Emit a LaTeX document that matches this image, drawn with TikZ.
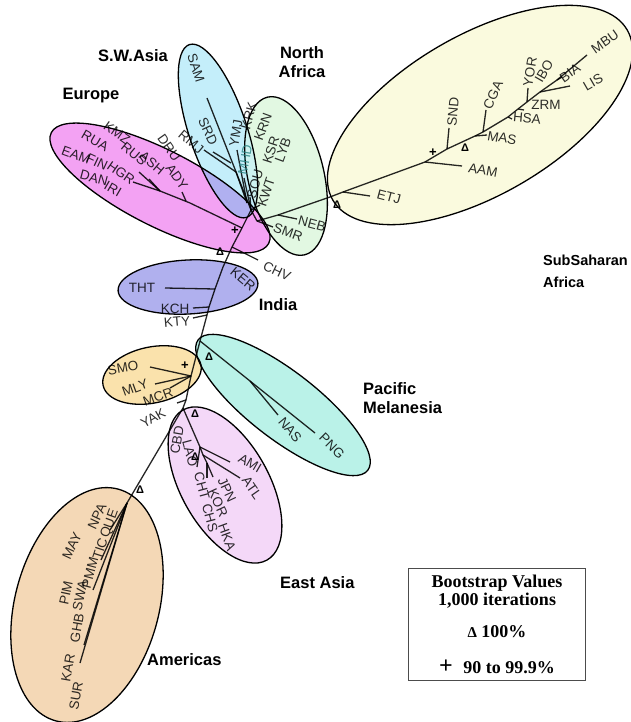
\documentclass[tikz,border=0pt]{standalone}
\usepackage{fontspec}
\setmainfont{Liberation Sans}
\newfontfamily\legfont{Liberation Serif}
\definecolor{cNA}{RGB}{226,248,226}
\definecolor{cSS}{RGB}{250,250,222}
\definecolor{cEU}{RGB}{243,162,243}
\definecolor{cSW}{RGB}{196,238,250}
\definecolor{cEUSW}{RGB}{176,176,240}
\definecolor{cNASW}{RGB}{205,242,240}
\definecolor{cIN}{RGB}{176,176,238}
\definecolor{cSM}{RGB}{250,226,172}
\definecolor{cPA}{RGB}{186,242,232}
\definecolor{cEA}{RGB}{244,216,248}
\definecolor{cAM}{RGB}{244,216,182}
\definecolor{cMHD}{RGB}{40,130,130}
\begin{document}
\begin{tikzpicture}[x=1pt,y=-1pt,
  lab/.style={font=\fontsize{13.5}{14}\selectfont,inner sep=0pt,text opacity=0.82},
  grp/.style={font=\bfseries\fontsize{16.5}{19}\selectfont,inner sep=0pt,align=left},
  branch/.style={line width=1.3pt,draw opacity=0.85,line join=round},
  rim/.style={line width=1.3pt},
  dm/.style={font=\bfseries\fontsize{11}{11}\selectfont,inner sep=0pt},
  pm/.style={font=\bfseries\fontsize{13}{13}\selectfont,inner sep=0pt},
  leg/.style={font=\legfont\bfseries\fontsize{18}{20}\selectfont,inner sep=0pt},
  rNA/.style={rotate around={-76.8:(286,176)}},
  rSS/.style={rotate around={30:(480,115)}},
  rEU/.style={rotate around={-27:(160,188)}},
  rSW/.style={rotate around={-71.7:(218,131)}},
  rIN/.style={rotate around={3:(188,287)}},
  rSM/.style={rotate around={12:(152,375)}},
  rPA/.style={rotate around={-37.6:(283,405)}},
  rEA/.style={rotate around={-60.8:(225,485)}},
  rAM/.style={rotate around={75:(87,605)}}
]
\useasboundingbox (0,0) rectangle (631,722);
\fill[white] (0,0) rectangle (631,722);

% ---- ellipse fills
\fill[cNA,rNA] (286,176) ellipse [x radius=81pt,y radius=38pt];
\fill[cSS,rSS] (480,115) ellipse [x radius=170pt,y radius=80pt];
\fill[cEU,rEU] (160,188) ellipse [x radius=122pt,y radius=38pt];
\fill[cSW,rSW] (218,131) ellipse [x radius=91pt,y radius=29pt];
\begin{scope}
  \clip[rNA] (286,176) ellipse [x radius=81pt,y radius=38pt];
  \fill[cNASW,rSW] (218,131) ellipse [x radius=91pt,y radius=29pt];
\end{scope}
\begin{scope}
  \clip[rEU] (160,188) ellipse [x radius=122pt,y radius=38pt];
  \fill[cEUSW,rSW] (218,131) ellipse [x radius=91pt,y radius=29pt];
\end{scope}
\fill[cIN,rIN] (188,287) ellipse [x radius=70pt,y radius=27pt];
\fill[cSM,rSM] (152,375) ellipse [x radius=50pt,y radius=28pt];
\fill[cPA,rPA] (283,405) ellipse [x radius=107pt,y radius=34pt];
\fill[cEA,rEA] (225,485) ellipse [x radius=86pt,y radius=44pt];
\fill[cAM,rAM] (87,605) ellipse [x radius=120pt,y radius=72pt];

% ---- ellipse outlines
\draw[rim,rNA] (286,176) ellipse [x radius=81pt,y radius=38pt];
\draw[rim,rSS] (480,115) ellipse [x radius=170pt,y radius=80pt];
\draw[rim,rEU] (160,188) ellipse [x radius=122pt,y radius=38pt];
\draw[rim,rSW] (218,131) ellipse [x radius=91pt,y radius=29pt];
\draw[rim,rIN] (188,287) ellipse [x radius=70pt,y radius=27pt];
\draw[rim,rSM] (152,375) ellipse [x radius=50pt,y radius=28pt];
\draw[rim,rPA] (283,405) ellipse [x radius=107pt,y radius=34pt];
\draw[rim,rEA] (225,485) ellipse [x radius=86pt,y radius=44pt];
\draw[rim,rAM] (87,605) ellipse [x radius=120pt,y radius=72pt];

% ---- tree coordinates
\coordinate (C0) at (251,210);
\coordinate (naJ) at (257,221);
\coordinate (nebJ) at (278,215);
\coordinate (sB) at (330,197);
\coordinate (etjJ) at (343,192);
\coordinate (aamJ) at (425,162);
\coordinate (sndJ) at (447,149);
\coordinate (masJ) at (475,136);
\coordinate (cgaJ) at (483,132);
\coordinate (hsaJ) at (508,117);
\coordinate (zrmJ) at (518,109);
\coordinate (yorJ) at (527,102);
\coordinate (lisJ) at (540,92);
\coordinate (biaJ) at (557,80);
\coordinate (mbuE) at (587,55);
\coordinate (eJ) at (242,228);
\coordinate (chvJ) at (232,247);
\coordinate (kerP) at (223,267);
\coordinate (thtJ) at (215,289);
\coordinate (kchJ) at (209,307);
\coordinate (ktyJ) at (207,315);
\coordinate (pacJ) at (200,341);
\coordinate (smoJ) at (191,376);
\coordinate (yakJ) at (186,400);
\coordinate (eaJ) at (183,408);
\coordinate (amJ) at (127,503);
\coordinate (ea1) at (200,447);
\coordinate (ea2) at (203,455);
\coordinate (ea3) at (207,463);
\coordinate (nasJ) at (250,381);
\coordinate (euM) at (190,203);
\coordinate (euF) at (160,191);

% ---- branches
\draw[branch] (C0) -- (naJ) -- (nebJ) -- (sB) -- (etjJ) -- (aamJ) -- (sndJ) -- (masJ) -- (cgaJ) -- (hsaJ) -- (zrmJ) -- (yorJ) -- (lisJ) -- (biaJ) -- (mbuE);
\draw[branch] (etjJ) -- (370,196);
\draw[branch] (aamJ) -- (462,166);
\draw[branch] (sndJ) -- (449,128);
\draw[branch] (masJ) -- (487,135);
\draw[branch] (cgaJ) -- (486,110);
\draw[branch] (hsaJ) -- (512,119);
\draw[branch] (zrmJ) -- (524,110);
\draw[branch] (yorJ) -- (528,88);
\draw[branch] (lisJ) -- (570,86);
\draw[branch] (biaJ) -- (562,77);
\draw[branch] (nebJ) -- (297,219);
\draw[branch] (naJ) -- (273,227);
% trunk
\draw[branch] (C0) -- (eJ) -- (chvJ) -- (kerP) -- (thtJ) -- (kchJ) -- (ktyJ) -- (pacJ) -- (smoJ) -- (yakJ) -- (eaJ) -- (amJ);
\draw[branch] (chvJ) -- (258,260);
\draw[branch] (thtJ) -- (165,288);
\draw[branch] (kchJ) -- (193,308);
\draw[branch] (ktyJ) -- (193,318);
% Europe
\draw[branch] (eJ) -- (euM) -- (euF) -- (133,182);
\draw[branch] (euF) -- (139,172);
\draw[branch] (euF) -- (149,179);
\draw[branch] (186,201) -- (182,192);
% SW Asia
\draw[branch] (C0) -- (207,98);
\draw[branch] (213,152) -- (231,163);
\draw[branch] (204,150) -- (236,172) -- (247,203);
\draw[branch] (237,150) -- (247,203);
% North Africa
\draw[branch] (C0) -- (250,197);
\draw[branch] (C0) -- (260,205);
\draw[branch] (C0) -- (244,178);
% Pacific
\draw[branch] (pacJ) -- (315,433);
\draw[branch] (nasJ) -- (278,415);
% SMO group
\draw[branch] (smoJ) -- (150,367);
\draw[branch] (smoJ) -- (155,384);
\draw[branch] (smoJ) -- (170,388);
\draw[branch] (yakJ) -- (177,403);
% East Asia
\draw[branch] (eaJ) -- (ea1) -- (ea2) -- (ea3) -- (213,477);
\draw[branch] (ea1) -- (230,462);
\draw[branch] (ea2) -- (240,478);
\draw[branch] (ea3) -- (207,478);
\draw[branch] (ea1) -- (197,467);
% Americas
\draw[branch] (amJ) -- (80,663);
\draw[branch] (amJ) -- (84,645);
\draw[branch] (amJ) -- (93,590);
\draw[branch] (amJ) -- (101,560);
\draw[branch] (amJ) -- (110,530);

% ---- labels: Sub-Saharan
\node[lab,rotate=-15] (ETJ) at (389,197) {ETJ};
\node[lab,rotate=-10] (AAM) at (483,170) {AAM};
\node[lab,rotate=85] (SND) at (453,112) {SND};
\node[lab,rotate=-10] (MAS) at (502,138) {MAS};
\node[lab,rotate=65] (CGA) at (493,95) {CGA};
\node[lab,rotate=-5] (HSA) at (527,118) {HSA};
\node[lab] (ZRM) at (546,105) {ZRM};
\node[lab,rotate=80] (YOR) at (530,72) {YOR};
\node[lab,rotate=60] (IBO) at (544,71) {IBO};
\node[lab,rotate=35] (BIA) at (570,73) {BIA};
\node[lab,rotate=30] (LIS) at (593,82) {LIS};
\node[lab,rotate=35] (MBU) at (605,42) {MBU};
% North Africa
\node[lab,rotate=75] (KRK) at (249,116) {KRK};
\node[lab,rotate=70] (KRN) at (263,127) {KRN};
\node[lab,rotate=80,text=cMHD] (MHD) at (245,160) {MHD};
\node[lab,rotate=75] (SOU) at (255,184) {SOU};
\node[lab,rotate=72] (KSR) at (271,150) {KSR};
\node[lab,rotate=70] (LYB) at (283,150) {LYB};
\node[lab,rotate=72] (KWT) at (266,192) {KWT};
\node[lab,rotate=-15] (NEB) at (312,224) {NEB};
\node[lab,rotate=-20] (SMR) at (288,232) {SMR};
% SW Asia
\node[lab,rotate=-72] (SAM) at (196,68) {SAM};
\node[lab,rotate=-65] (SRD) at (208,131) {SRD};
\node[lab,rotate=-40] (RMJ) at (191,142) {RMJ};
\node[lab,rotate=80] (YMJ) at (236,133) {YMJ};
% Europe
\node[lab,rotate=-35] (KMZ) at (117,133) {KMZ};
\node[lab,rotate=-30] (RUA) at (95,141) {RUA};
\node[lab,rotate=-40] (RUS) at (134,154) {RUS};
\node[lab,rotate=-40] (ASH) at (152,163) {ASH};
\node[lab,rotate=-55] (DRU) at (169,148) {DRU};
\node[lab,rotate=-55] (ADY) at (177,177) {ADY};
\node[lab,rotate=-20] (EAM) at (76,155) {EAM};
\node[lab,rotate=-25] (FIN) at (97,162) {FIN};
\node[lab,rotate=-35] (HGR) at (121,173) {HGR};
\node[lab,rotate=-15] (DAN) at (94,178) {DAN};
\node[lab,rotate=-30] (IRI) at (113,189) {IRI};
% India
\node[lab] (THT) at (142,288) {THT};
\node[lab] (KCH) at (175,309) {KCH};
\node[lab,rotate=5] (KTY) at (177,322) {KTY};
\node[lab,rotate=-40] (KER) at (243,279) {KER};
\node[lab,rotate=-25] (CHV) at (277,271) {CHV};
% Pacific
\node[lab,rotate=-50] (NAS) at (290,430) {NAS};
\node[lab,rotate=-45] (PNG) at (332,446) {PNG};
% SMO group
\node[lab,rotate=10] (SMO) at (123,368) {SMO};
\node[lab,rotate=20] (MLY) at (135,388) {MLY};
\node[lab,rotate=20] (MCR) at (158,397) {MCR};
\node[lab,rotate=30] (YAK) at (153,418) {YAK};
% East Asia
\node[lab,rotate=80] (CBD) at (177,440) {CBD};
\node[lab,rotate=-75] (LAO) at (190,453) {LAO};
\node[lab,rotate=-75] (CHT) at (202,486) {CHT};
\node[lab,rotate=-75] (CHS) at (210,518) {CHS};
\node[lab,rotate=-65] (JPN) at (227,490) {JPN};
\node[lab,rotate=-65] (KOR) at (218,503) {KOR};
\node[lab,rotate=-70] (HKA) at (227,537) {HKA};
\node[lab,rotate=-30] (AMI) at (250,463) {AMI};
\node[lab,rotate=-55] (ATL) at (252,488) {ATL};
% Americas
\node[lab,rotate=65] (MAY) at (72,546) {MAY};
\node[lab,rotate=65] (NPA) at (97,516) {NPA};
\node[lab,rotate=70] (QUE) at (110,524) {QUE};
\node[lab,rotate=72] (TIC) at (100,549) {TIC};
\node[lab,rotate=75] (PMM) at (90,573) {PMM};
\node[lab,rotate=78] (PIM) at (66,593) {PIM};
\node[lab,rotate=78] (SWA) at (80,596) {SWA};
\node[lab,rotate=80] (GHB) at (77,628) {GHB};
\node[lab,rotate=80] (KAR) at (68,668) {KAR};
\node[lab,rotate=80] (SUR) at (76,696) {SUR};

% ---- bootstrap markers
\node[dm] (d1) at (337,205) {Δ};
\node[dm] (d2) at (465,148) {Δ};
\node[dm] (d3) at (220,252) {Δ};
\node[dm] (d4) at (209,357) {Δ};
\node[dm] (d5) at (195,414) {Δ};
\node[dm] (d6) at (195,457) {Δ};
\node[dm] (d7) at (140,490) {Δ};
\node[pm] (p1) at (433,153) {+};
\node[pm] (p2) at (235,231) {+};
\node[pm] (p3) at (185,366) {+};

% ---- group titles
\node[grp] (tSW) at (133,56) {S.W.Asia};
\node[grp] (tEU) at (91,96) {Europe};
\node[grp,align=center] (tNA) at (302,62) {North\\Africa};
\node[grp,anchor=north west,font=\bfseries\fontsize{14.5}{22}\selectfont] (tSS) at (543,255) {SubSaharan\\Africa};
\node[grp] (tIN) at (278,305) {India};
\node[grp,anchor=north west] (tPA) at (363,382) {Pacific\\Melanesia};
\node[grp,anchor=west] (tEA) at (280,583) {East Asia};
\node[grp,anchor=west] (tAM) at (147,660) {Americas};

% ---- legend
\draw[line width=0.8pt,black!70] (408,568) rectangle (585,680);
\node[leg] (l1) at (497,583) {Bootstrap Values};
\node[leg] (l2) at (497,601) {1,000 iterations};
\node[leg] (l3) at (497,632) {{\fontsize{15}{15}\selectfont Δ} 100\%};
\node[leg] (l4) at (497,667) {{\fontsize{24}{24}\selectfont +}\,\, 90 to 99.9\%};
\end{tikzpicture}
\end{document}
